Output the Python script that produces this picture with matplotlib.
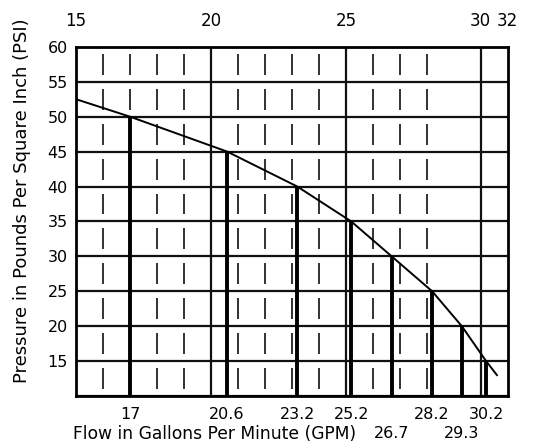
import matplotlib.pyplot as plt
from matplotlib.transforms import blended_transform_factory

# pump curve: flow (GPM) vs pressure (PSI)
flow = [15.0, 17.0, 20.6, 23.2, 25.2, 26.7, 28.2, 29.3, 30.2, 30.6]
psi = [52.5, 50, 45, 40, 35, 30, 25, 20, 15, 13]

# rated points marked by heavy verticals
mark_flow = [17.0, 20.6, 23.2, 25.2, 26.7, 28.2, 29.3, 30.2]
mark_psi = [50, 45, 40, 35, 30, 25, 20, 15]
row1_flow = [17.0, 20.6, 23.2, 25.2, 28.2, 30.2]
row1_labels = ['17', '20.6', '23.2', '25.2', '28.2', '30.2']
row2_flow = [26.7, 29.3]
row2_labels = ['26.7', '29.3']

psi_ticks = [15, 20, 25, 30, 35, 40, 45, 50, 55, 60]
psi_grid = [10, 15, 20, 25, 30, 35, 40, 45, 50, 55, 60]
flow_grid = [20, 25, 30]
flow_minor = [16, 17, 18, 19, 21, 22, 23, 24, 26, 27, 28]
top_ticks = [15, 20, 25, 30, 31]
top_labels = ['15', '20', '25', '30', '32']

plt.rcParams['font.family'] = 'DejaVu Sans'
fig = plt.figure(figsize=(5.43, 4.46), dpi=100)
ax = fig.add_axes([0.14, 0.112, 0.795, 0.783])
ax.set_xlim(15, 31)
ax.set_ylim(10, 60)

# grid
ax.hlines(psi_grid, 15, 31, color='#111111', lw=1.6)
ax.vlines(flow_grid, 10, 60, color='#111111', lw=1.6)
# short dashes in the middle of each band
for lo in psi_grid[:-1]:
    ax.vlines(flow_minor, lo + 1, lo + 4, color='#222222', lw=1.3)

ax.vlines(mark_flow, 10, mark_psi, color='black', lw=2.8)
ax.plot(flow, psi, color='black', lw=1.4)

for s in ax.spines.values():
    s.set_linewidth(2)

ax.set_yticks(psi_ticks)
ax.tick_params(axis='y', length=0, labelsize=11.5, pad=6)
ax.set_xticks(row1_flow)
ax.set_xticklabels(row1_labels)
ax.tick_params(axis='x', length=0, labelsize=11.5, pad=8)

top = ax.secondary_xaxis('top')
top.set_xticks(top_ticks)
top.set_xticklabels(top_labels)
top.tick_params(length=0, labelsize=12, pad=12)

trans = blended_transform_factory(ax.transData, ax.transAxes)
for x, lab in zip(row2_flow, row2_labels):
    ax.text(x, -0.085, lab, transform=trans, ha='center', va='top', fontsize=11.5)

ax.set_ylabel('Pressure in Pounds Per Square Inch (PSI)', fontsize=13)
ax.yaxis.set_label_coords(-0.105, 0.56)
ax.text(0.32, -0.083, 'Flow in Gallons Per Minute (GPM)', transform=ax.transAxes,
        ha='center', va='top', fontsize=12.3)

fig.savefig('out.png', dpi=100)
